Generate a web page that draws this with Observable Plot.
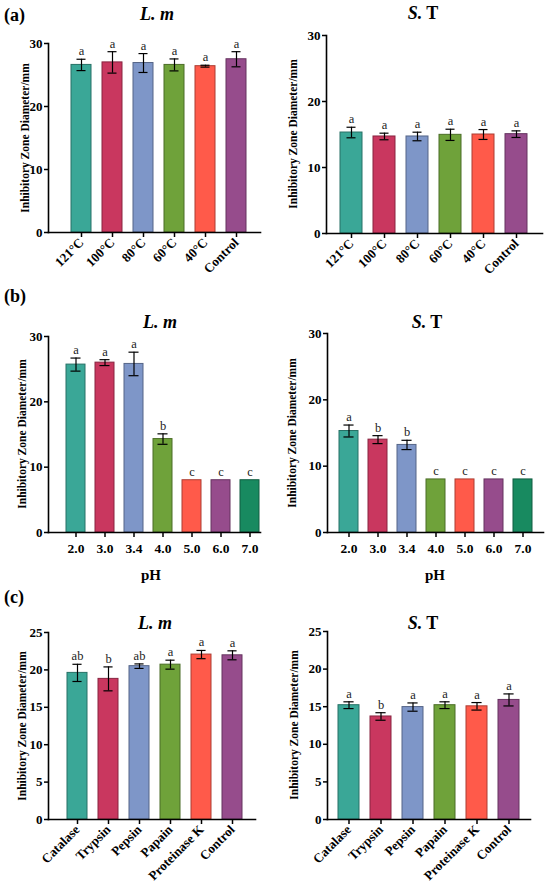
<!DOCTYPE html>
<html><head><meta charset="utf-8">
<script src="https://cdn.jsdelivr.net/npm/d3@7"></script>
<script src="https://cdn.jsdelivr.net/npm/@observablehq/plot@0.6"></script>
<style>
body{margin:0;background:#fff;}
#fig{position:relative;width:550px;height:892px;overflow:hidden;font-family:"Liberation Serif","Times New Roman",serif;background:#fff;}
#fig svg text{font-family:"Liberation Serif","Times New Roman",serif;}
.title{position:absolute;font-weight:bold;font-size:18px;white-space:nowrap;transform:translate(-50%,-50%);}
.tag{position:absolute;font-weight:bold;font-size:18px;transform:translateY(-50%);}
.ylab{position:absolute;font-weight:bold;font-size:11.5px;white-space:nowrap;transform:translate(-50%,-50%) rotate(-90deg);}
.xlab{position:absolute;font-weight:bold;font-size:15px;white-space:nowrap;transform:translate(-50%,-50%);}
</style></head><body><div id="fig"></div>
<script>
// ---- data ----
const palette = ["#3aa797", "#c9375f", "#7e96c8", "#6fa23a", "#ff5a4a", "#964c8c", "#188a60"];

const tempCats = ["121°C", "100°C", "80°C", "60°C", "40°C", "Control"];
const tempLmMean = [26.6, 27.0, 26.9, 26.6, 26.4, 27.5];
const tempLmSD = [0.9, 1.7, 1.5, 0.95, 0.15, 1.2];
const tempLmSig = ["a", "a", "a", "a", "a", "a"];
const tempStMean = [15.3, 14.7, 14.7, 14.95, 15.0, 15.05];
const tempStSD = [0.8, 0.5, 0.65, 0.85, 0.75, 0.5];
const tempStSig = ["a", "a", "a", "a", "a", "a"];

const phCats = ["2.0", "3.0", "3.4", "4.0", "5.0", "6.0", "7.0"];
const phLmMean = [25.7, 26.0, 25.8, 14.3, 8.0, 8.0, 8.0];
const phLmSD = [1.0, 0.45, 1.8, 0.8, 0, 0, 0];
const phLmSig = ["a", "a", "a", "b", "c", "c", "c"];
const phStMean = [15.3, 14.0, 13.2, 8.0, 8.0, 8.0, 8.0];
const phStSD = [0.9, 0.6, 0.7, 0, 0, 0, 0];
const phStSig = ["a", "b", "b", "c", "c", "c", "c"];

const enzCats = ["Catalase", "Trypsin", "Pepsin", "Papain", "Proteinase K", "Control"];
const enzLmMean = [19.6, 18.8, 20.5, 20.7, 22.05, 21.95];
const enzLmSD = [1.15, 1.6, 0.3, 0.6, 0.55, 0.6];
const enzLmSig = ["ab", "b", "ab", "a", "a", "a"];
const enzStMean = [15.2, 13.7, 14.95, 15.2, 15.05, 15.9];
const enzStSD = [0.45, 0.5, 0.55, 0.45, 0.5, 0.8];
const enzStSig = ["a", "b", "a", "a", "a", "a"];

const ticks30 = [0, 10, 20, 30];
const ticks25 = [0, 5, 10, 15, 20, 25];
const yLabel = "Inhibitory Zone Diameter/mm";

// ---- layout ----
const FONT = "Liberation Serif";
const panels = [
  {cats: tempCats, mean: tempLmMean, sd: tempLmSD, sig: tempLmSig, ymax: 30, yticks: ticks30, rotate: true,
   left: 0, top: 0, h: 300, ml: 48, mr: 15, mt: 43, mb: 68, c0: 79, c1: 238, pi: 0.34, labX: 25},
  {cats: tempCats, mean: tempStMean, sd: tempStSD, sig: tempStSig, ymax: 30, yticks: ticks30, rotate: true,
   left: 275, top: 0, h: 300, ml: 51, mr: 8, mt: 35, mb: 67, c0: 74, c1: 243, pi: 0.32, labX: 293},
  {cats: phCats, mean: phLmMean, sd: phLmSD, sig: phLmSig, ymax: 30, yticks: ticks30, rotate: false, xlabel: "pH",
   left: 0, top: 290, h: 300, ml: 48, mr: 15, mt: 46, mb: 58, c0: 75, c1: 250, pi: 0.35, labX: 22, xlabX: 151, xlabY: 575},
  {cats: phCats, mean: phStMean, sd: phStSD, sig: phStSig, ymax: 30, yticks: ticks30, rotate: false, xlabel: "pH",
   left: 275, top: 290, h: 300, ml: 52, mr: 7, mt: 43, mb: 58, c0: 72, c1: 249, pi: 0.36, labX: 292, xlabX: 435, xlabY: 575},
  {cats: enzCats, mean: enzLmMean, sd: enzLmSD, sig: enzLmSig, ymax: 25, yticks: ticks25, rotate: true,
   left: 0, top: 590, h: 302, ml: 48, mr: 20, mt: 42, mb: 73, c0: 76, c1: 234, pi: 0.34, labX: 22},
  {cats: enzCats, mean: enzStMean, sd: enzStSD, sig: enzStSig, ymax: 25, yticks: ticks25, rotate: true,
   left: 275, top: 590, h: 302, ml: 52, mr: 20, mt: 41, mb: 73, c0: 73, c1: 233, pi: 0.35, labX: 294}
];

const titles = [
  {html: "<i>L. m</i>", x: 157, y: 14},
  {html: "<i>S.</i> T", x: 423, y: 13},
  {html: "<i>L. m</i>", x: 160, y: 322},
  {html: "<i>S.</i> T", x: 427, y: 322},
  {html: "<i>L. m</i>", x: 155, y: 623},
  {html: "<i>S.</i> T", x: 423, y: 623}
];
const tags = [{t: "(a)", y: 15}, {t: "(b)", y: 296}, {t: "(c)", y: 597}];

const fig = document.getElementById("fig");

function addDiv(cls, text, x, y) {
  const d = document.createElement("div");
  d.className = cls;
  d.innerHTML = text;
  d.style.left = x + "px";
  d.style.top = y + "px";
  fig.appendChild(d);
}

function makePanel(cfg) {
  const n = cfg.cats.length;
  const step = (cfg.c1 - cfg.c0) / (n - 1);
  const r0 = cfg.c0 - step / 2, r1 = cfg.c1 + step / 2;
  const bw = step * (1 - cfg.pi);
  const capInset = Math.max(0, (bw - 10) / 2);
  const data = cfg.cats.map((c, i) => ({
    cat: c, mean: cfg.mean[i], sd: cfg.sd[i], sig: cfg.sig[i],
    color: palette[i], stroke: d3.color(palette[i]).darker(1.1).formatHex()
  }));
  const err = data.filter(d => d.sd > 0);
  const svg = Plot.plot({
    width: 275, height: cfg.h,
    marginLeft: cfg.ml, marginRight: cfg.mr, marginTop: cfg.mt, marginBottom: cfg.mb,
    style: {fontFamily: FONT, fontWeight: "bold", fontSize: "12px", background: "transparent", overflow: "visible", color: "black"},
    x: {type: "band", domain: cfg.cats, range: [r0, r1], paddingInner: cfg.pi, paddingOuter: cfg.pi / 2, label: null},
    y: {domain: [0, cfg.ymax], label: null},
    color: {type: "identity"},
    marks: [
      Plot.barY(data, {x: "cat", y: "mean", fill: "color", stroke: "stroke", strokeWidth: 1}),
      Plot.ruleX(err, {x: "cat", y1: d => d.mean - d.sd, y2: d => d.mean + d.sd, stroke: "black", strokeWidth: 1.2}),
      Plot.tickY(err, {x: "cat", y: d => d.mean + d.sd, insetLeft: capInset, insetRight: capInset, stroke: "black", strokeWidth: 1.2}),
      Plot.tickY(err, {x: "cat", y: d => d.mean - d.sd, insetLeft: capInset, insetRight: capInset, stroke: "black", strokeWidth: 1.2}),
      Plot.text(data, {x: "cat", y: d => d.mean + d.sd, text: "sig", dy: -8, fontFamily: FONT, fontWeight: "normal", fontSize: 12.5, fill: "#222"}),
      Plot.frame({anchor: "left", strokeWidth: 1.6}),
      Plot.frame({anchor: "bottom", strokeWidth: 1.6}),
      Plot.axisY({ticks: cfg.yticks, tickSize: 4, tickPadding: 2, strokeWidth: 1.5, fontSize: 13, fontFamily: FONT, fontWeight: "bold", label: null}),
      cfg.rotate
        ? Plot.axisX({tickSize: 5, tickPadding: 3, strokeWidth: 1.5, tickRotate: -45, fontSize: 13, fontFamily: FONT, fontWeight: "bold", label: null})
        : Plot.axisX({tickSize: 5, tickPadding: 6, strokeWidth: 1.5, fontSize: 13.5, fontFamily: FONT, fontWeight: "bold", label: null})
    ]
  });
  svg.style.position = "absolute";
  svg.style.left = cfg.left + "px";
  svg.style.top = cfg.top + "px";
  fig.appendChild(svg);

  addDiv("ylab", yLabel, cfg.labX, cfg.top + (cfg.mt + cfg.h - cfg.mb) / 2);
  if (cfg.xlabel) addDiv("xlab", cfg.xlabel, cfg.xlabX, cfg.xlabY);
}

panels.forEach(makePanel);
titles.forEach(t => addDiv("title", t.html, t.x, t.y));
tags.forEach(t => addDiv("tag", t.t, 4, t.y));
</script></body></html>
